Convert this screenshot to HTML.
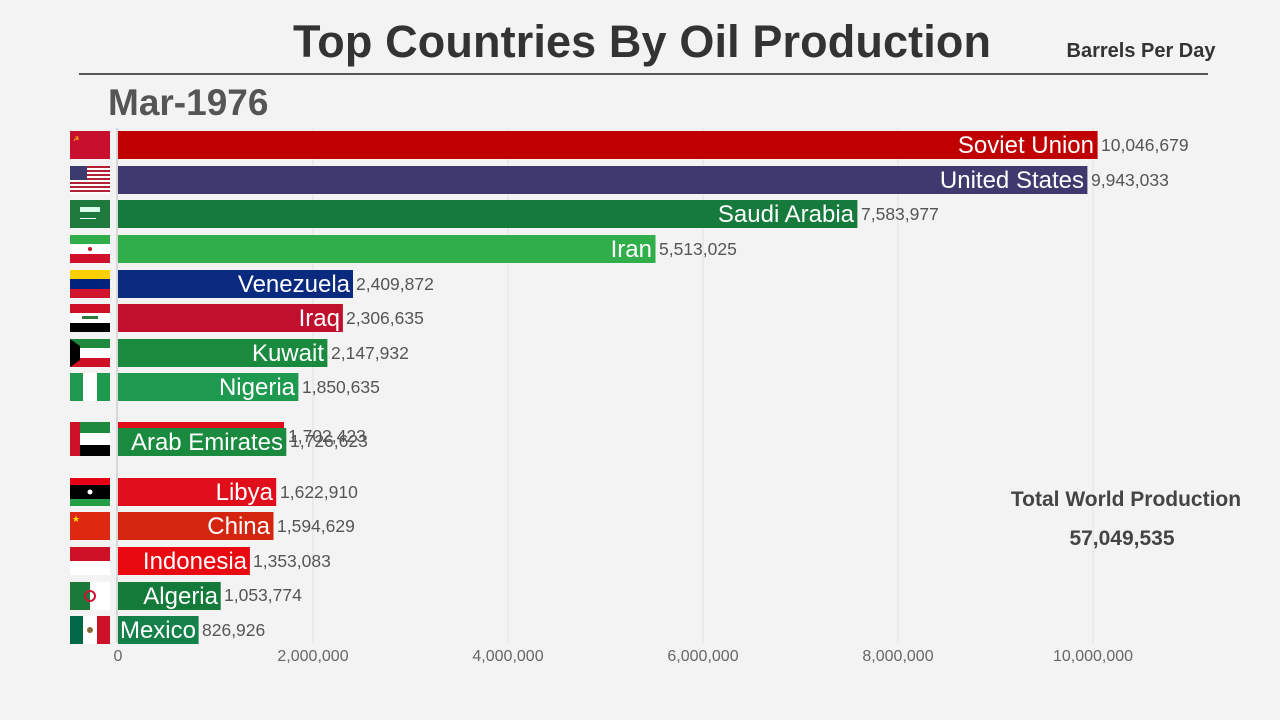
<!DOCTYPE html>
<html><head><meta charset="utf-8"><style>
body{margin:0;background:#f3f3f3;}
svg{display:block;font-family:"Liberation Sans",sans-serif;}
</style></head><body>
<svg width="1280" height="720" viewBox="0 0 1280 720">
<rect width="1280" height="720" fill="#f3f3f3"/>
<text x="642" y="57" text-anchor="middle" font-size="45" font-weight="bold" fill="#333" textLength="698">Top Countries By Oil Production</text>
<text x="1141" y="57" text-anchor="middle" font-size="20" font-weight="bold" fill="#333">Barrels Per Day</text>
<line x1="79" y1="74" x2="1208" y2="74" stroke="#555" stroke-width="2"/>
<text x="108" y="115" font-size="37" font-weight="bold" fill="#555">Mar-1976</text>
<g stroke="#e2e2e2" stroke-width="1">
<line x1="313" y1="128" x2="313" y2="643"/><line x1="508" y1="128" x2="508" y2="643"/>
<line x1="703" y1="128" x2="703" y2="643"/><line x1="898" y1="128" x2="898" y2="643"/>
<line x1="1093" y1="128" x2="1093" y2="643"/>
</g>
<line x1="117" y1="128" x2="117" y2="643" stroke="#d8d8d8" stroke-width="2"/>
<g font-size="16" fill="#666" text-anchor="middle">
<text x="118" y="661">0</text><text x="313" y="661">2,000,000</text><text x="508" y="661">4,000,000</text>
<text x="703" y="661">6,000,000</text><text x="898" y="661">8,000,000</text><text x="1093" y="661">10,000,000</text>
</g>
<!-- flags -->
<rect x="70" y="131" width="40" height="28" fill="#c8102e"/><text x="73" y="141" font-size="7" fill="#fd0">☭</text>
<g><rect x="70" y="166" width="40" height="28" fill="#fff"/>
<g fill="#b22234"><rect x="70" y="166" width="40" height="2"/><rect x="70" y="170" width="40" height="2"/><rect x="70" y="174" width="40" height="2"/><rect x="70" y="178" width="40" height="2"/><rect x="70" y="182" width="40" height="2"/><rect x="70" y="186" width="40" height="2"/><rect x="70" y="190" width="40" height="2"/></g>
<rect x="70" y="166" width="17" height="14" fill="#3c3b6e"/></g>
<rect x="70" y="200" width="40" height="28" fill="#1d7a3c"/><rect x="80" y="207" width="20" height="5" fill="#dfe"/><rect x="80" y="218" width="16" height="1" fill="#fff"/>
<rect x="70" y="235" width="40" height="9" fill="#2fae4a"/><rect x="70" y="244" width="40" height="10" fill="#fff"/><rect x="70" y="254" width="40" height="9" fill="#d0102a"/><circle cx="90" cy="249" r="2" fill="#d0102a"/>
<rect x="70" y="270" width="40" height="9" fill="#ffcf00"/><rect x="70" y="279" width="40" height="10" fill="#00247d"/><rect x="70" y="289" width="40" height="9" fill="#cf142b"/>
<rect x="70" y="304" width="40" height="9" fill="#ce1126"/><rect x="70" y="313" width="40" height="10" fill="#fff"/><rect x="70" y="323" width="40" height="9" fill="#000"/><rect x="82" y="316" width="16" height="3" fill="#2a7a3a"/>
<rect x="70" y="339" width="40" height="9" fill="#1e8a3e"/><rect x="70" y="348" width="40" height="10" fill="#fff"/><rect x="70" y="358" width="40" height="9" fill="#ce1126"/><polygon points="70,339 80,346 80,360 70,367" fill="#000"/>
<rect x="70" y="373" width="40" height="28" fill="#1e9a4e"/><rect x="83" y="373" width="14" height="28" fill="#fff"/>
<rect x="70" y="422" width="10" height="34" fill="#ce1126"/><rect x="80" y="422" width="30" height="11" fill="#1e8a3e"/><rect x="80" y="433" width="30" height="12" fill="#fff"/><rect x="80" y="445" width="30" height="11" fill="#000"/>
<rect x="70" y="478" width="40" height="7" fill="#e70013"/><rect x="70" y="485" width="40" height="14" fill="#000"/><rect x="70" y="499" width="40" height="7" fill="#239e46"/><circle cx="90" cy="492" r="2.5" fill="#fff"/>
<rect x="70" y="512" width="40" height="28" fill="#de2910"/><text x="72" y="522" font-size="9" fill="#ffde00">★</text>
<rect x="70" y="547" width="40" height="14" fill="#ce1126"/><rect x="70" y="561" width="40" height="14" fill="#fff"/>
<rect x="70" y="582" width="20" height="28" fill="#1a7a3a"/><rect x="90" y="582" width="20" height="28" fill="#fff"/><circle cx="90" cy="596" r="5" fill="none" stroke="#d21034" stroke-width="2"/>
<rect x="70" y="616" width="13" height="28" fill="#006847"/><rect x="83" y="616" width="14" height="28" fill="#fff"/><rect x="97" y="616" width="13" height="28" fill="#ce1126"/><circle cx="90" cy="630" r="3" fill="#8a6a3a"/>
<!-- bars -->
<g font-size="24" fill="#fff" text-anchor="end">
<rect x="118" y="131" width="979.6" height="28" fill="#c00000"/><text x="1094" y="153">Soviet Union</text>
<rect x="118" y="166" width="969.4" height="28" fill="#3f3a6e"/><text x="1084" y="188">United States</text>
<rect x="118" y="200" width="739.4" height="28" fill="#157a3c"/><text x="854" y="222">Saudi Arabia</text>
<rect x="118" y="235" width="537.5" height="28" fill="#2fae4a"/><text x="652" y="257">Iran</text>
<rect x="118" y="270" width="235" height="28" fill="#0a2a80"/><text x="350" y="292">Venezuela</text>
<rect x="118" y="304" width="224.9" height="28" fill="#c0102e"/><text x="340" y="326">Iraq</text>
<rect x="118" y="339" width="209.4" height="28" fill="#1a8a3e"/><text x="324" y="361">Kuwait</text>
<rect x="118" y="373" width="180.4" height="28" fill="#1e9a50"/><text x="295" y="395">Nigeria</text>
<rect x="118" y="422" width="166" height="28" fill="#e00d1a"/>
<rect x="118" y="428" width="168.3" height="28" fill="#1a8a3e"/><text x="283" y="450">Arab Emirates</text>
<rect x="118" y="478" width="158.2" height="28" fill="#e00d1a"/><text x="273" y="500">Libya</text>
<rect x="118" y="512" width="155.5" height="28" fill="#d4260f"/><text x="270" y="534">China</text>
<rect x="118" y="547" width="131.9" height="28" fill="#e80a10"/><text x="247" y="569">Indonesia</text>
<rect x="118" y="582" width="102.7" height="28" fill="#137a3a"/><text x="218" y="604">Algeria</text>
<rect x="118" y="616" width="80.6" height="28" fill="#14804a"/><text x="196" y="638">Mexico</text>
</g>
<g font-size="17.5" fill="#555">
<text x="1101" y="151">10,046,679</text><text x="1091" y="186">9,943,033</text>
<text x="861" y="220">7,583,977</text><text x="659" y="255">5,513,025</text>
<text x="356" y="290">2,409,872</text><text x="346" y="324">2,306,635</text>
<text x="331" y="359">2,147,932</text><text x="302" y="393">1,850,635</text>
<text x="288" y="442">1,702,423</text><text x="290" y="447">1,726,623</text>
<text x="280" y="498">1,622,910</text><text x="277" y="532">1,594,629</text>
<text x="253" y="567">1,353,083</text><text x="224" y="601">1,053,774</text>
<text x="202" y="636">826,926</text>
</g>
<text x="1126" y="506" text-anchor="middle" font-size="21" font-weight="bold" fill="#444">Total World Production</text>
<text x="1122" y="545" text-anchor="middle" font-size="21" font-weight="bold" fill="#444">57,049,535</text>
</svg>
</body></html>
